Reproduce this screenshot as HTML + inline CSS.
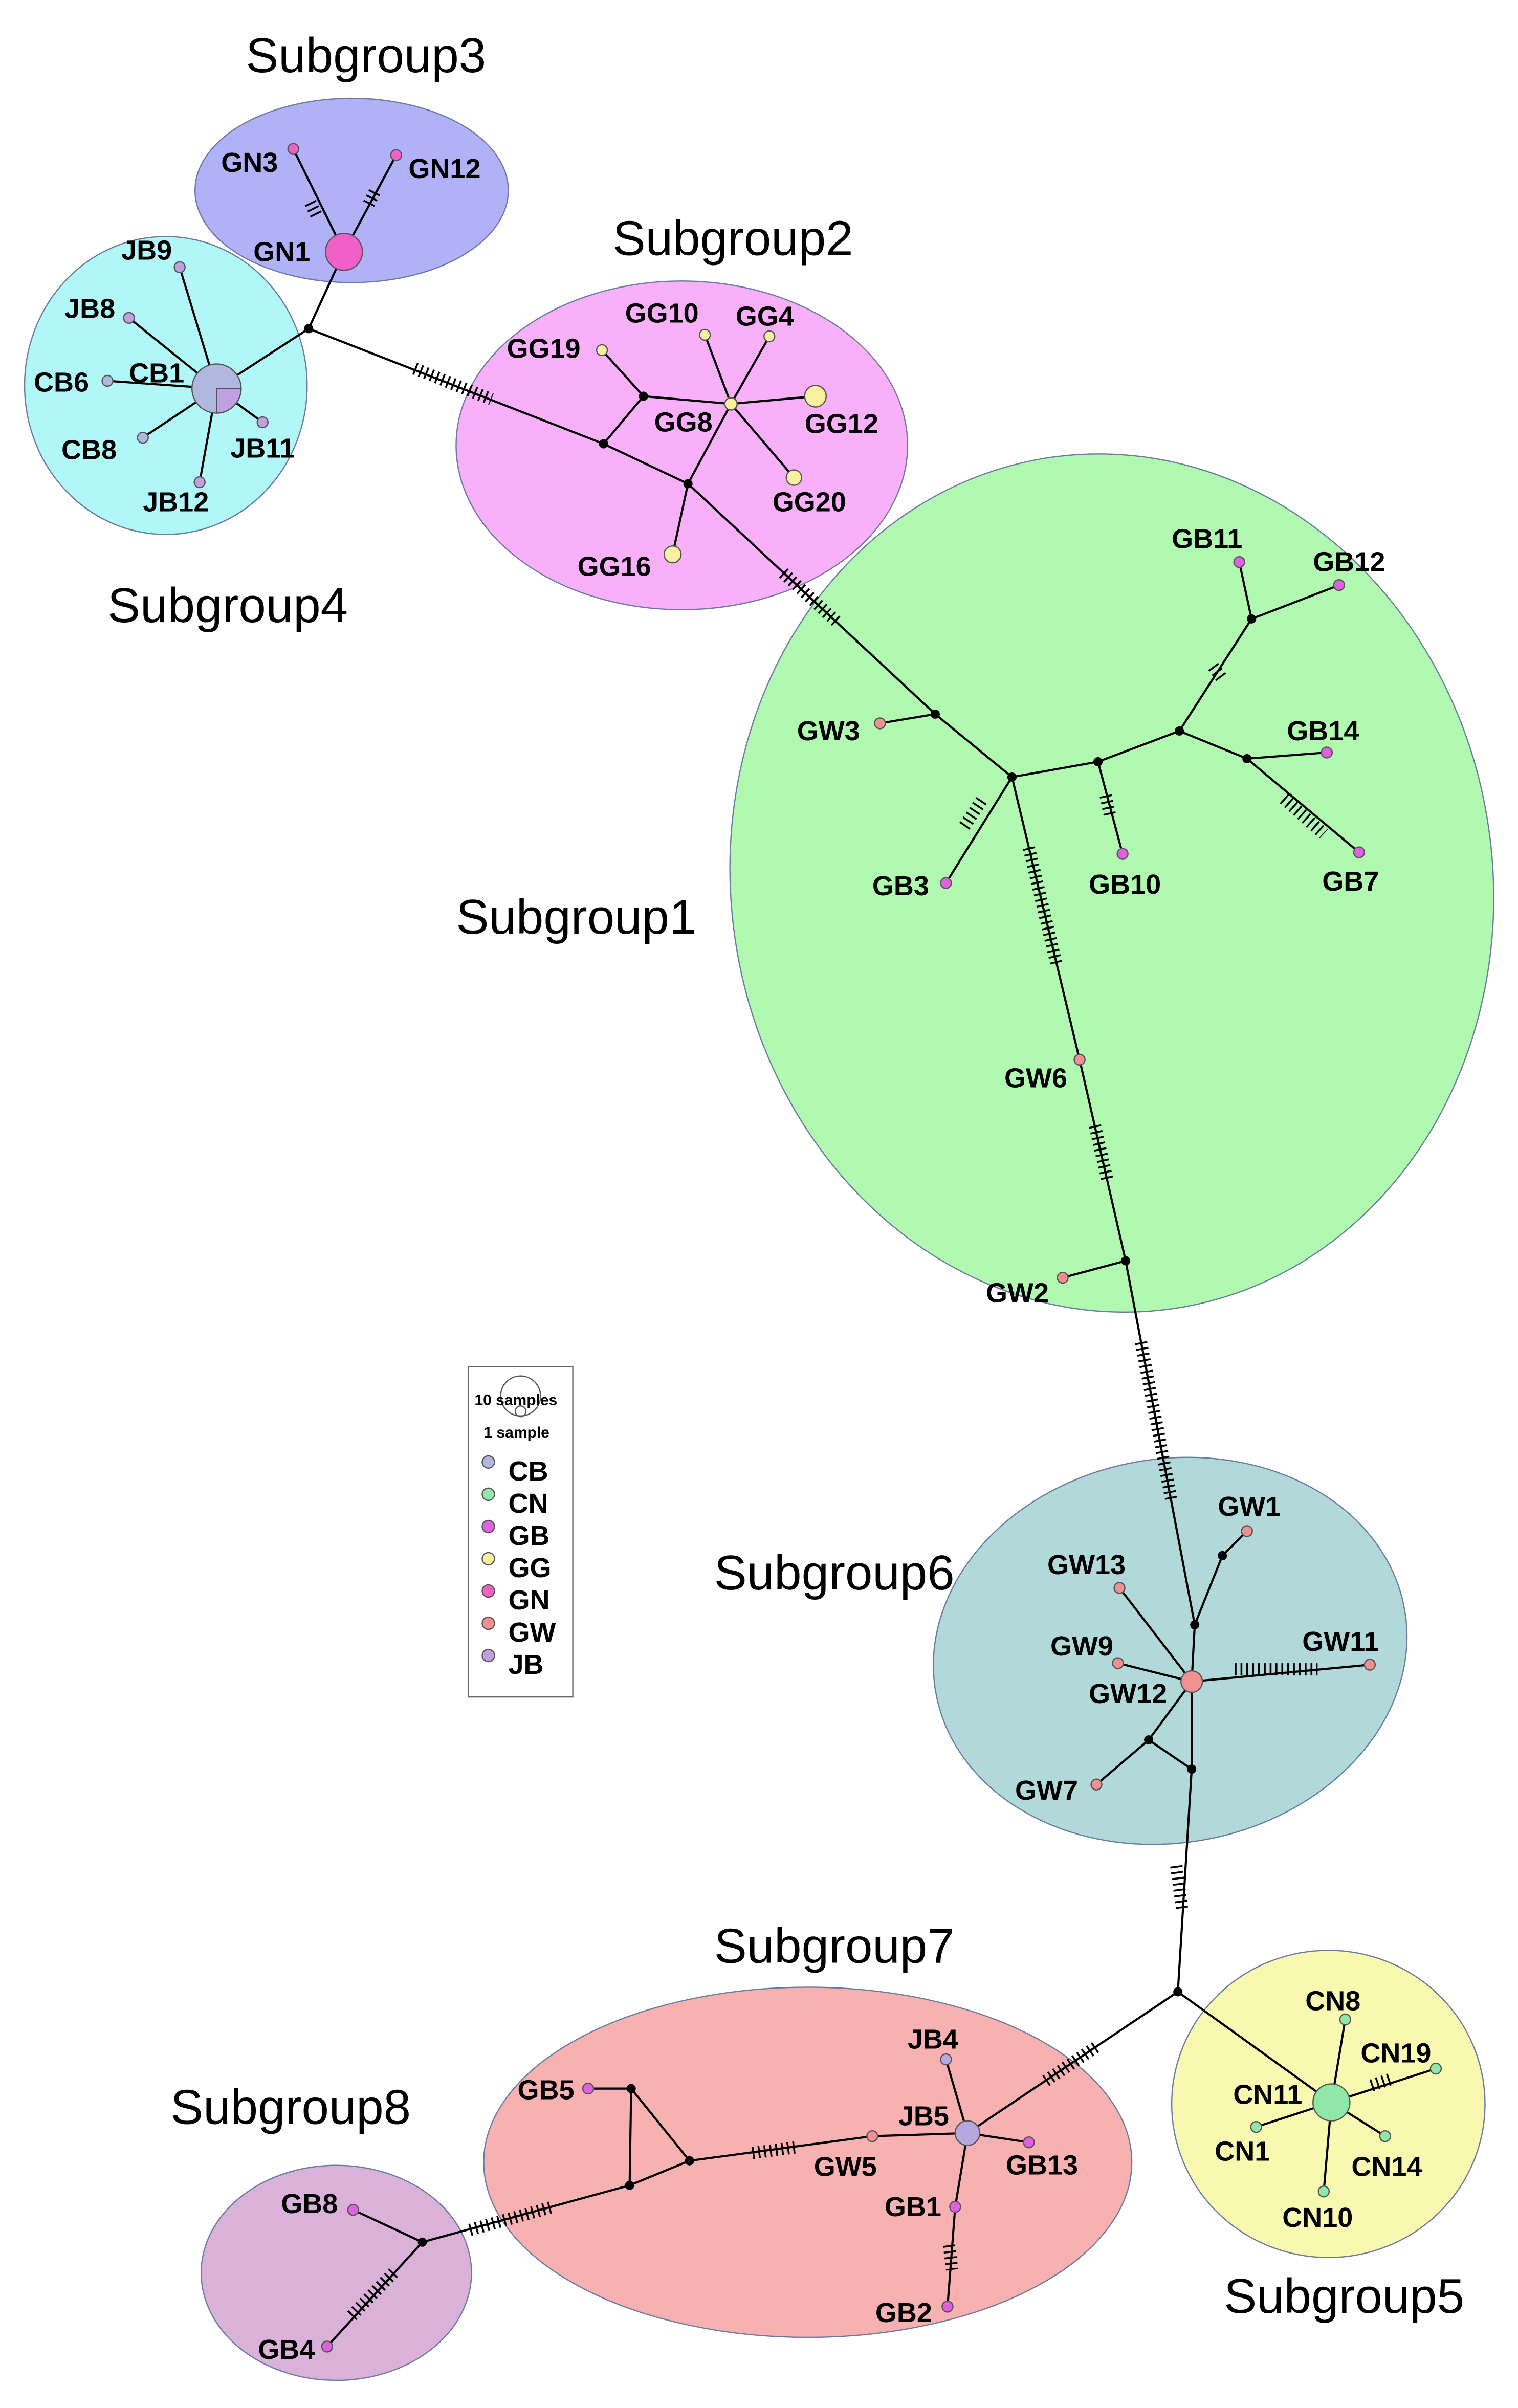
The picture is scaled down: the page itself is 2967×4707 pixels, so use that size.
<!DOCTYPE html>
<html><head><meta charset="utf-8"><style>
html,body{margin:0;padding:0;background:#fff}
svg{display:block}
text{font-family:"Liberation Sans",sans-serif}
.l{font-weight:bold;font-size:18px;fill:#000}
.s{font-size:32px;fill:#000}
.e{stroke:#000;stroke-width:1.4;fill:none}
.h{stroke:#000;stroke-width:8;stroke-dasharray:1.2 2.6;fill:none}
.n{stroke:#555;stroke-width:0.8}
</style></head><body>
<svg width="2967" height="4707" viewBox="0 0 988.5 1568" preserveAspectRatio="none" xmlns="http://www.w3.org/2000/svg">
<rect width="1000" height="1600" fill="#fff"/>
<g stroke="#6a7aa0" stroke-width="0.8">
<ellipse cx="229" cy="124" rx="102" ry="60" fill="#b1b1f7"/>
<ellipse cx="108" cy="251" rx="92" ry="97" fill="#b1f7f7"/>
<ellipse cx="444" cy="290" rx="147" ry="107" fill="#f8b1f8"/>
<ellipse cx="724" cy="575" rx="248" ry="280" transform="rotate(-8 724 575)" fill="#b1f8b1"/>
<ellipse cx="762" cy="1075" rx="155" ry="125" transform="rotate(-10 762 1075)" fill="#b1d9d9"/>
<ellipse cx="526" cy="1408" rx="211" ry="114" fill="#f8b1b1"/>
<ellipse cx="219" cy="1480" rx="88" ry="70" fill="#d9b1d9"/>
<ellipse cx="865" cy="1370" rx="102" ry="100" fill="#f8f8b1"/>
</g>
<g class="e">
<polyline points="191,97 224,164 258,101"/>
<line x1="224" y1="164" x2="201" y2="214"/>
<line x1="201" y1="214" x2="141" y2="253"/>
<line x1="141" y1="253" x2="117" y2="174"/><line x1="141" y1="253" x2="84" y2="207"/>
<line x1="141" y1="253" x2="70" y2="248"/><line x1="141" y1="253" x2="93" y2="285"/>
<line x1="141" y1="253" x2="130" y2="314"/><line x1="141" y1="253" x2="171" y2="275"/>
<line x1="201" y1="214" x2="393" y2="289"/>
<line x1="393" y1="289" x2="419" y2="258"/><line x1="419" y1="258" x2="392" y2="228"/>
<line x1="419" y1="258" x2="476" y2="263"/>
<line x1="393" y1="289" x2="448" y2="315"/>
<line x1="448" y1="315" x2="476" y2="263"/><line x1="448" y1="315" x2="438" y2="361"/>
<line x1="476" y1="263" x2="459" y2="218"/><line x1="476" y1="263" x2="501" y2="219"/>
<line x1="476" y1="263" x2="531" y2="258"/><line x1="476" y1="263" x2="517" y2="311"/>
<line x1="448" y1="315" x2="609" y2="465"/>
<line x1="609" y1="465" x2="573" y2="471"/>
<line x1="609" y1="465" x2="659" y2="506"/>
<line x1="659" y1="506" x2="616" y2="575"/>
<line x1="659" y1="506" x2="715" y2="496"/>
<line x1="715" y1="496" x2="731" y2="556"/>
<line x1="715" y1="496" x2="768" y2="476"/>
<line x1="768" y1="476" x2="815" y2="403"/>
<line x1="815" y1="403" x2="807" y2="366"/><line x1="815" y1="403" x2="872" y2="381"/>
<line x1="768" y1="476" x2="812" y2="494"/>
<line x1="812" y1="494" x2="864" y2="490"/><line x1="812" y1="494" x2="885" y2="555"/>
<line x1="659" y1="506" x2="703" y2="690"/>
<line x1="703" y1="690" x2="733" y2="821"/>
<line x1="733" y1="821" x2="692" y2="832"/>
<line x1="733" y1="821" x2="778" y2="1058"/>
<line x1="778" y1="1058" x2="776" y2="1095"/>
<line x1="778" y1="1058" x2="796" y2="1013"/><line x1="796" y1="1013" x2="812" y2="997"/>
<line x1="776" y1="1095" x2="729" y2="1034"/><line x1="776" y1="1095" x2="728" y2="1083"/>
<line x1="776" y1="1095" x2="892" y2="1084"/>
<line x1="776" y1="1095" x2="748" y2="1133"/><line x1="748" y1="1133" x2="714" y2="1162"/>
<line x1="748" y1="1133" x2="776" y2="1152"/><line x1="776" y1="1095" x2="776" y2="1152"/>
<line x1="776" y1="1152" x2="767" y2="1297"/>
<line x1="767" y1="1297" x2="867" y2="1369"/>
<line x1="867" y1="1369" x2="876" y2="1315"/><line x1="867" y1="1369" x2="935" y2="1347"/>
<line x1="867" y1="1369" x2="902" y2="1391"/><line x1="867" y1="1369" x2="862" y2="1427"/>
<line x1="867" y1="1369" x2="818" y2="1385"/>
<line x1="767" y1="1297" x2="630" y2="1389"/>
<line x1="630" y1="1389" x2="616" y2="1341"/><line x1="630" y1="1389" x2="670" y2="1395"/>
<line x1="630" y1="1389" x2="622" y2="1437"/><line x1="622" y1="1437" x2="617" y2="1502"/>
<line x1="630" y1="1389" x2="568" y2="1391"/><line x1="568" y1="1391" x2="449" y2="1407"/>
<line x1="449" y1="1407" x2="411" y2="1360"/><line x1="411" y1="1360" x2="383" y2="1360"/>
<line x1="411" y1="1360" x2="410" y2="1423"/><line x1="449" y1="1407" x2="410" y2="1423"/>
<line x1="410" y1="1423" x2="275" y2="1460"/>
<line x1="275" y1="1460" x2="230" y2="1439"/><line x1="275" y1="1460" x2="213" y2="1528"/>
</g>
<g class="h">
<line x1="202" y1="132" x2="206" y2="140"/><line x1="244" y1="125" x2="240" y2="133"/>
<line x1="270" y1="240" x2="320" y2="260"/>
<line x1="510" y1="373" x2="545" y2="405"/>
<line x1="628" y1="538" x2="640" y2="520"/>
<line x1="670" y1="552" x2="688" y2="628"/>
<line x1="713" y1="733" x2="721" y2="768"/>
<line x1="743" y1="874" x2="763" y2="978"/>
<line x1="804" y1="1087" x2="858" y2="1087"/>
<line x1="766" y1="1215" x2="770" y2="1245"/>
<line x1="681" y1="1355" x2="715" y2="1332"/>
<line x1="306" y1="1452" x2="360" y2="1437"/>
<line x1="229" y1="1508" x2="258" y2="1478"/>
<line x1="490" y1="1402" x2="520" y2="1398"/>
<line x1="618" y1="1462" x2="620" y2="1478"/>
<line x1="893" y1="1358" x2="905" y2="1354"/>
<line x1="790" y1="434" x2="796" y2="442"/>
<line x1="836" y1="520" x2="862" y2="543"/>
<line x1="720" y1="518" x2="723" y2="532"/>
</g>
<g fill="#000">
<circle cx="201" cy="214" r="3"/><circle cx="393" cy="289" r="3"/><circle cx="419" cy="258" r="3"/>
<circle cx="448" cy="315" r="3"/><circle cx="609" cy="465" r="3"/><circle cx="659" cy="506" r="3"/>
<circle cx="715" cy="496" r="3"/><circle cx="768" cy="476" r="3"/><circle cx="815" cy="403" r="3"/>
<circle cx="812" cy="494" r="3"/><circle cx="733" cy="821" r="3"/><circle cx="778" cy="1058" r="3"/>
<circle cx="796" cy="1013" r="3"/><circle cx="748" cy="1133" r="3"/><circle cx="776" cy="1152" r="3"/>
<circle cx="767" cy="1297" r="3"/><circle cx="449" cy="1407" r="3"/><circle cx="411" cy="1360" r="3"/>
<circle cx="410" cy="1423" r="3"/><circle cx="275" cy="1460" r="3"/>
</g>
<g class="n">
<circle cx="224" cy="164" r="12" fill="#f060c8"/><circle cx="191" cy="97" r="3.5" fill="#f060c8"/><circle cx="258" cy="101" r="3.5" fill="#f060c8"/>
<circle cx="141" cy="253" r="16" fill="#b0b8e0"/>
<path d="M141,253 L157,253 A16,16 0 0 1 141,269 Z" fill="#c0a0e0"/>
<circle cx="117" cy="174" r="3.5" fill="#c0a0e0"/><circle cx="84" cy="207" r="3.5" fill="#c0a0e0"/>
<circle cx="70" cy="248" r="3.5" fill="#b0b8e0"/><circle cx="93" cy="285" r="3.5" fill="#b0b8e0"/>
<circle cx="130" cy="314" r="3.5" fill="#c0a0e0"/><circle cx="171" cy="275" r="3.5" fill="#c0a0e0"/>
<circle cx="476" cy="263" r="4" fill="#f8f0a0"/><circle cx="392" cy="228" r="3.5" fill="#f8f0a0"/>
<circle cx="459" cy="218" r="3.5" fill="#f8f0a0"/><circle cx="501" cy="219" r="3.5" fill="#f8f0a0"/>
<circle cx="531" cy="258" r="7" fill="#f8f0a0"/><circle cx="517" cy="311" r="5" fill="#f8f0a0"/>
<circle cx="438" cy="361" r="5.5" fill="#f8f0a0"/>
<circle cx="573" cy="471" r="3.5" fill="#f09090"/><circle cx="703" cy="690" r="3.5" fill="#f09090"/>
<circle cx="692" cy="832" r="3.5" fill="#f09090"/>
<circle cx="616" cy="575" r="3.5" fill="#e060e0"/><circle cx="731" cy="556" r="3.5" fill="#e060e0"/>
<circle cx="807" cy="366" r="3.5" fill="#e060e0"/><circle cx="872" cy="381" r="3.5" fill="#e060e0"/>
<circle cx="864" cy="490" r="3.5" fill="#e060e0"/><circle cx="885" cy="555" r="3.5" fill="#e060e0"/>
<circle cx="776" cy="1095" r="7" fill="#f09090"/><circle cx="812" cy="997" r="3.5" fill="#f09090"/>
<circle cx="729" cy="1034" r="3.5" fill="#f09090"/><circle cx="728" cy="1083" r="3.5" fill="#f09090"/>
<circle cx="892" cy="1084" r="3.5" fill="#f09090"/><circle cx="714" cy="1162" r="3.5" fill="#f09090"/>
<circle cx="867" cy="1369" r="12" fill="#90e8a8"/><circle cx="876" cy="1315" r="3.5" fill="#90e8a8"/>
<circle cx="935" cy="1347" r="3.5" fill="#90e8a8"/><circle cx="902" cy="1391" r="3.5" fill="#90e8a8"/>
<circle cx="862" cy="1427" r="3.5" fill="#90e8a8"/><circle cx="818" cy="1385" r="3.5" fill="#90e8a8"/>
<circle cx="630" cy="1389" r="8" fill="#b8a8e0"/><circle cx="616" cy="1341" r="3.5" fill="#b8a8e0"/>
<circle cx="670" cy="1395" r="3.5" fill="#e060e0"/><circle cx="622" cy="1437" r="3.5" fill="#e060e0"/>
<circle cx="617" cy="1502" r="3.5" fill="#e060e0"/><circle cx="568" cy="1391" r="3.5" fill="#f09090"/>
<circle cx="383" cy="1360" r="3.5" fill="#e060e0"/><circle cx="230" cy="1439" r="3.5" fill="#e060e0"/>
<circle cx="213" cy="1528" r="3.5" fill="#e060e0"/>
</g>
<g class="s">
<text x="160" y="47">Subgroup3</text><text x="399" y="166">Subgroup2</text>
<text x="70" y="405">Subgroup4</text><text x="297" y="608">Subgroup1</text>
<text x="465" y="1035">Subgroup6</text><text x="465" y="1278">Subgroup7</text>
<text x="111" y="1383">Subgroup8</text><text x="797" y="1506">Subgroup5</text>
</g>
<g class="l">
<text x="144" y="112">GN3</text><text x="266" y="116">GN12</text><text x="165" y="170">GN1</text>
<text x="79" y="169">JB9</text><text x="42" y="207">JB8</text><text x="22" y="255">CB6</text>
<text x="84" y="249">CB1</text><text x="40" y="299">CB8</text><text x="150" y="298">JB11</text>
<text x="93" y="333">JB12</text>
<text x="407" y="210">GG10</text><text x="479" y="212">GG4</text><text x="330" y="233">GG19</text>
<text x="426" y="281">GG8</text><text x="524" y="282">GG12</text><text x="503" y="333">GG20</text>
<text x="376" y="375">GG16</text>
<text x="763" y="357">GB11</text><text x="855" y="372">GB12</text><text x="519" y="482">GW3</text>
<text x="838" y="482">GB14</text><text x="568" y="583">GB3</text><text x="709" y="582">GB10</text>
<text x="861" y="580">GB7</text><text x="654" y="708">GW6</text><text x="642" y="848">GW2</text>
<text x="793" y="987">GW1</text><text x="682" y="1025">GW13</text><text x="684" y="1078">GW9</text>
<text x="848" y="1075">GW11</text><text x="709" y="1109">GW12</text><text x="661" y="1172">GW7</text>
<text x="850" y="1309">CN8</text><text x="886" y="1343">CN19</text><text x="803" y="1370">CN11</text>
<text x="791" y="1407">CN1</text><text x="880" y="1417">CN14</text><text x="835" y="1450">CN10</text>
<text x="591" y="1334">JB4</text><text x="585" y="1384">JB5</text><text x="655" y="1416">GB13</text>
<text x="337" y="1367">GB5</text><text x="530" y="1417">GW5</text><text x="576" y="1443">GB1</text>
<text x="570" y="1512">GB2</text><text x="183" y="1441">GB8</text><text x="168" y="1536">GB4</text>
</g>
<rect x="305" y="890" width="68" height="215" fill="#fff" stroke="#666" stroke-width="0.8"/>
<circle cx="339" cy="909" r="13" fill="none" stroke="#555" stroke-width="0.8"/>
<circle cx="339" cy="919" r="3.5" fill="none" stroke="#555" stroke-width="0.8"/>
<text x="309" y="915" style="font-size:10px;font-weight:bold">10 samples</text>
<text x="315" y="936" style="font-size:10px;font-weight:bold">1 sample</text>
<g class="n">
<circle cx="318" cy="952" r="4" fill="#b0b8e0"/><circle cx="318" cy="973" r="4" fill="#90e8a8"/>
<circle cx="318" cy="994" r="4" fill="#e060e0"/><circle cx="318" cy="1015" r="4" fill="#f8f0a0"/>
<circle cx="318" cy="1036" r="4" fill="#f060c8"/><circle cx="318" cy="1057" r="4" fill="#f09090"/>
<circle cx="318" cy="1078" r="4" fill="#c0a0e0"/>
</g>
<g class="l">
<text x="331" y="964">CB</text><text x="331" y="985">CN</text><text x="331" y="1006">GB</text>
<text x="331" y="1027">GG</text><text x="331" y="1048">GN</text><text x="331" y="1069">GW</text>
<text x="331" y="1090">JB</text>
</g>
</svg>
</body></html>
